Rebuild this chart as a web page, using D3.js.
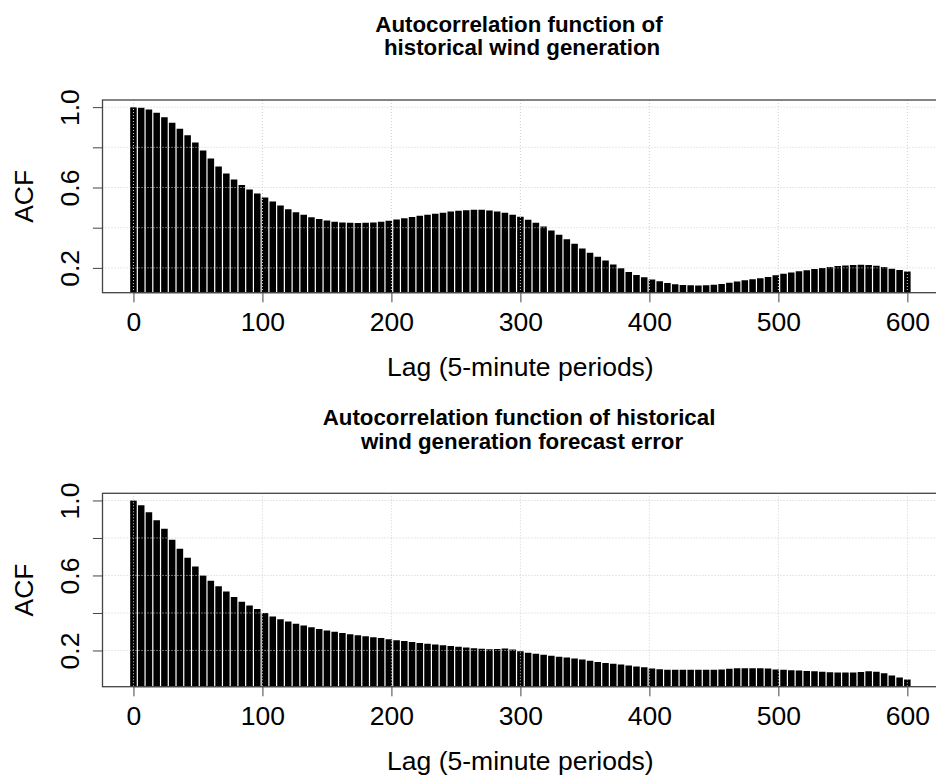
<!DOCTYPE html>
<html>
<head>
<meta charset="utf-8">
<script src="https://cdn.jsdelivr.net/npm/d3@7"></script>
<style>
  body { margin: 0; background: #fff; }
  svg { display: block; font-family: "Liberation Sans", Arial, sans-serif; }
</style>
</head>
<body>
<div id="chart"></div>
<script>
// ACF, one value every 6 lags (0, 6, ..., 600)
const lagStep = 6;
const acfWind = [
  1.000, 0.997, 0.988, 0.972, 0.950, 0.922, 0.892, 0.860, 0.824, 0.784,
  0.744, 0.705, 0.670, 0.640, 0.613, 0.590, 0.570, 0.550, 0.530, 0.510,
  0.492, 0.477, 0.464, 0.452, 0.443, 0.436, 0.430, 0.426, 0.424, 0.423,
  0.424, 0.426, 0.430, 0.435, 0.441, 0.447, 0.453, 0.459, 0.465, 0.470,
  0.475, 0.480, 0.484, 0.487, 0.489, 0.489, 0.486, 0.481, 0.474, 0.465,
  0.454, 0.440, 0.424, 0.406, 0.386, 0.365, 0.343, 0.320, 0.297, 0.275,
  0.256, 0.237, 0.217, 0.198, 0.180, 0.165, 0.153, 0.142, 0.133, 0.125,
  0.119, 0.115, 0.113, 0.112, 0.113, 0.116, 0.120, 0.126, 0.132, 0.138,
  0.143, 0.148, 0.155, 0.163, 0.171, 0.177, 0.183, 0.188, 0.194, 0.199,
  0.205, 0.209, 0.212, 0.214, 0.215, 0.214, 0.211, 0.204, 0.196, 0.189,
  0.182
];
const acfError = [
  1.000, 0.975, 0.937, 0.895, 0.849, 0.790, 0.742, 0.695, 0.648, 0.600,
  0.572, 0.543, 0.514, 0.485, 0.460, 0.440, 0.421, 0.400, 0.381, 0.366,
  0.354, 0.343, 0.333, 0.324, 0.315, 0.307, 0.300, 0.293, 0.287, 0.281,
  0.276, 0.271, 0.266, 0.260, 0.255, 0.250, 0.245, 0.240, 0.236, 0.232,
  0.228, 0.224, 0.220, 0.216, 0.212, 0.209, 0.207, 0.208, 0.210, 0.205,
  0.196, 0.188, 0.182, 0.177, 0.172, 0.167, 0.162, 0.157, 0.152, 0.145,
  0.138, 0.133, 0.129, 0.125, 0.120, 0.115, 0.110, 0.104, 0.100, 0.097,
  0.097, 0.097, 0.097, 0.097, 0.097, 0.097, 0.098, 0.102, 0.105, 0.105,
  0.105, 0.105, 0.104, 0.099, 0.097, 0.095, 0.093, 0.091, 0.089, 0.087,
  0.084, 0.082, 0.082, 0.082, 0.085, 0.089, 0.086, 0.079, 0.067, 0.056,
  0.045
];
const xTicks = [0, 100, 200, 300, 400, 500, 600];
const yTicks = [0.2, 0.4, 0.6, 0.8, 1.0];
const yTickLabels = ["0.2", "", "0.6", "", "1.0"];
const titleWind = ["Autocorrelation function of", " historical wind generation"];
const titleError = ["Autocorrelation function of historical", " wind generation forecast error"];
const xLabel = "Lag (5-minute periods)";
const yLabel = "ACF";

let svg = d3.select("#chart").append("svg")
    .attr("width", 936)
    .attr("height", 775);

acfplot(svg, acfWind, {id: "wind", top: 100, height: 192.7, titleY: 31.7, title: titleWind});
acfplot(svg, acfError, {id: "err", top: 493.3, height: 193.4, titleY: 425, title: titleError});

function acfplot(svg, values, config) {
    let left = 102.5, right = 938.3,
        top = config.top,
        bottom = config.top + config.height;
    let lags = values.map((v, i) => i * lagStep),
        maxLag = d3.max(lags);

    //R style axis ranges, padded by 4%
    let x = d3.scaleLinear().domain([-0.04 * maxLag, 1.04 * maxLag]).range([left, right]);
    let lo = d3.min(values), hi = d3.max(values), pad = 0.04 * (hi - lo);
    let y = d3.scaleLinear().domain([lo - pad, hi + pad]).range([bottom, top]);

    let g = svg.append("g").attr("class", "panel");

    g.append("clipPath")
        .attr("id", "clip-" + config.id)
        .append("rect")
        .attr("x", left).attr("y", top)
        .attr("width", right - left).attr("height", bottom - top);

    //Vertical ACF spikes
    g.append("g")
        .attr("clip-path", `url(#clip-${config.id})`)
        .selectAll("line")
        .data(values)
        .enter().append("line")
        .attr("x1", (d, i) => x(lags[i]))
        .attr("x2", (d, i) => x(lags[i]))
        .attr("y1", y(0))
        .attr("y2", d => y(d))
        .attr("stroke", "#000")
        .attr("stroke-width", x(lagStep) - x(0) - 1.2);

    //Dotted grid drawn over the spikes
    let grid = g.append("g")
        .attr("stroke", "#d0d0d0")
        .attr("stroke-width", 1)
        .attr("stroke-dasharray", "1,2");
    grid.selectAll(".gx")
        .data(xTicks)
        .enter().append("line")
        .attr("x1", d => x(d)).attr("x2", d => x(d))
        .attr("y1", top).attr("y2", bottom);
    grid.selectAll(".gy")
        .data(yTicks)
        .enter().append("line")
        .attr("x1", left).attr("x2", right)
        .attr("y1", d => y(d)).attr("y2", d => y(d));

    //Box
    g.append("rect")
        .attr("x", left).attr("y", top)
        .attr("width", right - left).attr("height", bottom - top)
        .attr("fill", "none")
        .attr("stroke", "#444")
        .attr("stroke-width", 1.3);

    //X axis
    let xa = g.append("g")
        .attr("transform", `translate(0, ${bottom})`)
        .call(d3.axisBottom(x).tickValues(xTicks).tickSize(9.6).tickPadding(9.9));
    xa.select(".domain").remove();
    xa.append("line")
        .attr("x1", x(xTicks[0])).attr("x2", x(xTicks[xTicks.length - 1]))
        .attr("stroke", "#444");
    xa.selectAll(".tick line").attr("stroke", "#444");
    xa.selectAll("text")
        .attr("font-size", 26.5)
        .attr("font-family", null)
        .attr("fill", "#000");

    //Y axis, labels parallel to the axis
    let ya = g.append("g")
        .attr("transform", `translate(${left}, 0)`)
        .call(d3.axisLeft(y).tickValues(yTicks).tickSize(9.6).tickFormat((d, i) => yTickLabels[i]));
    ya.select(".domain").remove();
    ya.append("line")
        .attr("y1", y(yTicks[0])).attr("y2", y(yTicks[yTicks.length - 1]))
        .attr("stroke", "#444");
    ya.selectAll(".tick line").attr("stroke", "#444");
    ya.selectAll("text")
        .attr("x", null)
        .attr("dy", null)
        .attr("text-anchor", "middle")
        .attr("transform", "translate(-23.5, 0) rotate(-90)")
        .attr("font-size", 26.5)
        .attr("font-family", null)
        .attr("fill", "#000");

    //Axis titles
    g.append("text")
        .attr("x", (left + right) / 2)
        .attr("y", bottom + 83)
        .attr("text-anchor", "middle")
        .attr("font-size", 26.5)
        .text(xLabel);
    g.append("text")
        .attr("transform", `translate(33.3, ${(top + bottom) / 2}) rotate(-90)`)
        .attr("text-anchor", "middle")
        .attr("font-size", 26.5)
        .text(yLabel);

    //Main title, two lines
    g.append("text")
        .attr("text-anchor", "middle")
        .attr("font-size", 22.3)
        .attr("font-weight", "bold")
        .style("white-space", "pre")
        .selectAll("tspan")
        .data(config.title)
        .enter().append("tspan")
        .attr("x", 519)
        .attr("y", (d, i) => config.titleY + i * 23.5)
        .text(String);
}
</script>
</body>
</html>
